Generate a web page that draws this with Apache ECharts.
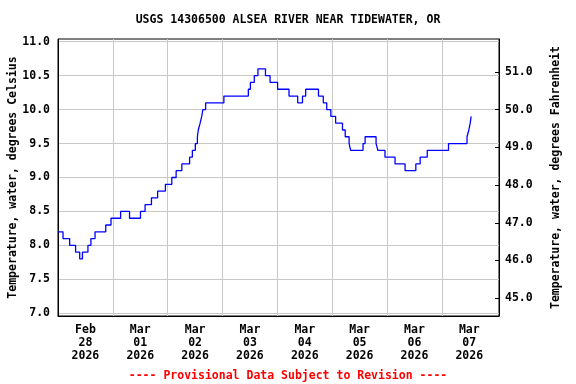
<!DOCTYPE html>
<html><head><meta charset="utf-8">
<script src="https://cdn.jsdelivr.net/npm/echarts@6/dist/echarts.min.js"></script>
<style>html,body{margin:0;padding:0;background:#fff}#c{width:576px;height:384px}</style>
</head><body><div id="c"></div>
<script>
const chartTitle = "USGS 14306500 ALSEA RIVER NEAR TIDEWATER, OR";
const footerText = "---- Provisional Data Subject to Revision ----";
const leftAxisName = "Temperature, water, degrees Celsius";
const rightAxisName = "Temperature, water, degrees Fahrenheit";

// hours since 2026-02-28 00:00 where the reading changes
const hours = [0, 2.2, 5.1, 7.7, 9.5, 10.7, 13.1, 14.4, 16.2, 20.9, 23.2, 27.4, 31.3, 36.1, 38.1,
  40.9, 43.6, 47.0, 49.8, 51.7, 54.2, 57.6, 58.8, 60.1, 61.0, 61.4, 62.2, 62.9, 63.4, 64.6,
  72.6, 83.3, 84.2, 85.9, 87.5, 90.8, 92.8, 96.1, 101.1, 104.9, 107.0, 108.4, 114.0, 116.1,
  117.6, 119.4, 121.5, 124.5, 125.7, 127.4, 128.1, 133.5, 134.4, 139.2, 140.0, 143.1, 147.5,
  151.9, 156.6, 158.5, 161.6, 170.9, 179.0, 179.8, 180.4, 180.8, 181.0];
const tempC = [8.2, 8.1, 8.0, 7.9, 7.8, 7.9, 8.0, 8.1, 8.2, 8.3, 8.4, 8.5, 8.4, 8.5, 8.6,
  8.7, 8.8, 8.9, 9.0, 9.1, 9.2, 9.3, 9.4, 9.5, 9.6, 9.7, 9.8, 9.9, 10.0, 10.1,
  10.2, 10.3, 10.4, 10.5, 10.6, 10.5, 10.4, 10.3, 10.2, 10.1, 10.2, 10.3, 10.2, 10.1,
  10.0, 9.9, 9.8, 9.7, 9.6, 9.5, 9.4, 9.5, 9.6, 9.5, 9.4, 9.3, 9.2,
  9.1, 9.2, 9.3, 9.4, 9.5, 9.6, 9.7, 9.8, 9.9, 9.9];

const dayLabels = ["Feb\n28\n2026", "Mar\n01\n2026", "Mar\n02\n2026", "Mar\n03\n2026",
  "Mar\n04\n2026", "Mar\n05\n2026", "Mar\n06\n2026", "Mar\n07\n2026"];
const dayLabelHours = [12, 36, 60, 84, 108, 132, 156, 180];
const midnightHours = [24, 48, 72, 96, 120, 144, 168];
const celsiusTicks = [7.0, 7.5, 8.0, 8.5, 9.0, 9.5, 10.0, 10.5, 11.0];
const fahrenheitTicks = [45, 46, 47, 48, 49, 50, 51];

const cMin = 6.96, cMax = 11.04;
const FONT = "'DejaVu Sans Mono', monospace";
const txt = {fontFamily: FONT, fontWeight: 'bold', fontSize: 11.5, color: '#000'};

const chart = echarts.init(document.getElementById('c'), null, {renderer: 'canvas'});
chart.setOption({
  animation: false,
  backgroundColor: '#fff',
  title: [
    {text: chartTitle, left: 'center', top: 14, padding: 0, textStyle: Object.assign({}, txt)},
    {text: footerText, left: 'center', top: 370, padding: 0, textStyle: Object.assign({}, txt, {color: '#ff0000'})}
  ],
  grid: {left: 58, right: 77, top: 39, bottom: 68, containLabel: false, outerBoundsMode: 'none',
    show: true, borderColor: '#000', borderWidth: 1, backgroundColor: 'transparent'},
  xAxis: {
    type: 'value', min: 0, max: 193,
    axisLine: {show: true, lineStyle: {color: '#000', width: 1}},
    axisTick: {show: false, customValues: midnightHours},
    splitLine: {show: true, lineStyle: {color: '#c8c8c8', width: 1}},
    axisLabel: Object.assign({}, txt, {
      customValues: dayLabelHours, margin: 8, lineHeight: 12.7,
      formatter: v => dayLabels[Math.round((v - 12) / 24)] || ''
    })
  },
  yAxis: [
    {
      type: 'value', min: cMin, max: cMax, position: 'left',
      name: leftAxisName, nameLocation: 'middle', nameGap: 39, nameMoveOverlap: false,
      nameTextStyle: Object.assign({}, txt),
      axisLine: {show: true, lineStyle: {color: '#000', width: 1}},
      axisTick: {show: false, customValues: celsiusTicks},
      splitLine: {show: true, lineStyle: {color: '#c8c8c8', width: 1}},
      axisLabel: Object.assign({}, txt, {customValues: celsiusTicks, margin: 8, formatter: v => v.toFixed(1)})
    },
    {
      type: 'value', min: cMin * 1.8 + 32, max: cMax * 1.8 + 32, position: 'right',
      name: rightAxisName, nameLocation: 'middle', nameGap: 51, nameMoveOverlap: false,
      nameTextStyle: Object.assign({}, txt),
      axisLine: {show: true, lineStyle: {color: '#000', width: 1}},
      axisTick: {show: true, inside: true, length: 4, customValues: fahrenheitTicks, lineStyle: {color: '#000'}},
      splitLine: {show: false},
      axisLabel: Object.assign({}, txt, {customValues: fahrenheitTicks, margin: 6, formatter: v => v.toFixed(1)})
    }
  ],
  series: [{
    type: 'line', step: 'end', yAxisIndex: 0, showSymbol: false,
    data: hours.map((h, i) => [h, tempC[i]]),
    lineStyle: {color: '#0000ff', width: 1.3},
    itemStyle: {color: '#0000ff'}
  }]
});
</script>
</body></html>
